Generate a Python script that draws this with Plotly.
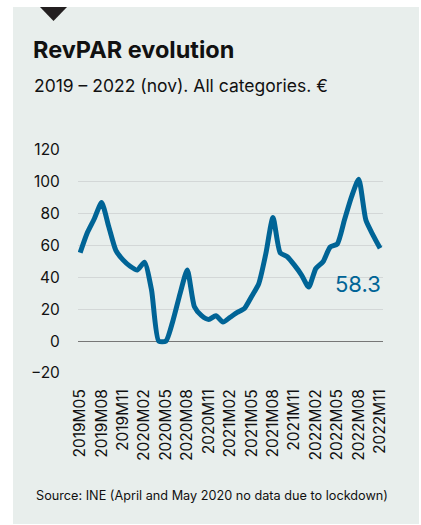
import plotly.graph_objects as go

# ---- data ----
months = [
    "2019M05", "2019M06", "2019M07", "2019M08", "2019M09", "2019M10", "2019M11", "2019M12",
    "2020M01", "2020M02", "2020M03", "2020M04", "2020M05", "2020M06", "2020M07", "2020M08",
    "2020M09", "2020M10", "2020M11", "2020M12",
    "2021M01", "2021M02", "2021M03", "2021M04", "2021M05", "2021M06", "2021M07", "2021M08",
    "2021M09", "2021M10", "2021M11", "2021M12",
    "2022M01", "2022M02", "2022M03", "2022M04", "2022M05", "2022M06", "2022M07", "2022M08",
    "2022M09", "2022M10", "2022M11",
]
revpar = [
    55.5, 68, 77, 87, 72, 57, 51, 47,
    44.6, 49.5, 32, 0, 0, 13, 30, 44.6,
    21.6, 16, 13.6, 16,
    12, 15, 18, 20.5, 28, 36, 55, 77.7,
    55.5, 53, 47.7, 41.5,
    34, 45.6, 49.8, 59, 61, 76, 90.7, 101.6,
    76, 66.6, 58.3,
]
tick_labels = months[::3]
y_ticks = [-20, 0, 20, 40, 60, 80, 100, 120]

title = "RevPAR evolution"
subtitle = "2019 – 2022 (nov). All categories. €"
source = "Source: INE (April and May 2020 no data due to lockdown)"

# ---- layout geometry (pixels) ----
W, H = 421, 525
L, R, T, B = 78, 38, 150, 152
PW, PH = W - L - R, H - T - B

def px(x):
    return (x - L) / PW

def py(y):
    return 1 - (y - T) / PH

PANEL = "#e8eeec"
BLUE = "#006496"
FONT = "Inter, Roboto, sans-serif"

fig = go.Figure()
fig.add_trace(go.Scatter(
    x=months, y=revpar, mode="lines",
    line=dict(color=BLUE, width=5, shape="spline", smoothing=0.6),
    hoverinfo="skip",
))

shapes = [
    dict(type="rect", xref="paper", yref="paper", layer="below",
         x0=px(13), x1=px(419), y0=py(7), y1=py(524),
         fillcolor=PANEL, line=dict(width=0)),
    dict(type="path", xref="paper", yref="paper", layer="above",
         path=f"M {px(40)} {py(7)} L {px(67)} {py(7)} L {px(53.5)} {py(21)} Z",
         fillcolor="#231f20", line=dict(width=0)),
]

annotations = [
    dict(text=f"<b>{title}</b>", xref="paper", yref="paper", x=px(31), y=py(49),
         xanchor="left", yanchor="middle", showarrow=False,
         font=dict(family=FONT, size=23.5, color="#111")),
    dict(text=subtitle, xref="paper", yref="paper", x=px(32), y=py(85),
         xanchor="left", yanchor="middle", showarrow=False,
         font=dict(family=FONT, size=17.5, color="#111")),
    dict(text=source, xref="paper", yref="paper", x=px(34), y=py(495),
         xanchor="left", yanchor="middle", showarrow=False,
         font=dict(family=FONT, size=12.7, color="#111")),
    dict(text=f"{revpar[-1]}", x=months[-1], y=revpar[-1], xref="x", yref="y",
         xanchor="right", yanchor="middle", xshift=3, yshift=-36, showarrow=False,
         font=dict(family=FONT, size=22, color=BLUE)),
]

fig.update_layout(
    width=W, height=H, autosize=False,
    margin=dict(l=L, r=R, t=T, b=B, pad=0),
    paper_bgcolor="white", plot_bgcolor="rgba(0,0,0,0)",
    showlegend=False,
    shapes=shapes, annotations=annotations,
    xaxis=dict(
        type="category", range=[-0.3, len(months) - 1 + 0.4],
        tickmode="array", tickvals=tick_labels, ticktext=tick_labels,
        tickangle=-90, showgrid=False, zeroline=False, showline=False,
        ticks="outside", ticklen=9, tickcolor="rgba(0,0,0,0)",
        tickfont=dict(family=FONT, size=15.5, color="#111"),
    ),
    yaxis=dict(
        range=[-20, 120], tickmode="array", tickvals=y_ticks,
        showgrid=True, gridcolor="#d3d7d7", gridwidth=1,
        zeroline=True, zerolinecolor="#777", zerolinewidth=1,
        ticks="outside", ticklen=14, tickcolor="rgba(0,0,0,0)",
        tickfont=dict(family=FONT, size=15.5, color="#111"),
    ),
)

fig.write_html("out.html", config={"displayModeBar": False},
               post_script="document.body.style.margin='0';")
